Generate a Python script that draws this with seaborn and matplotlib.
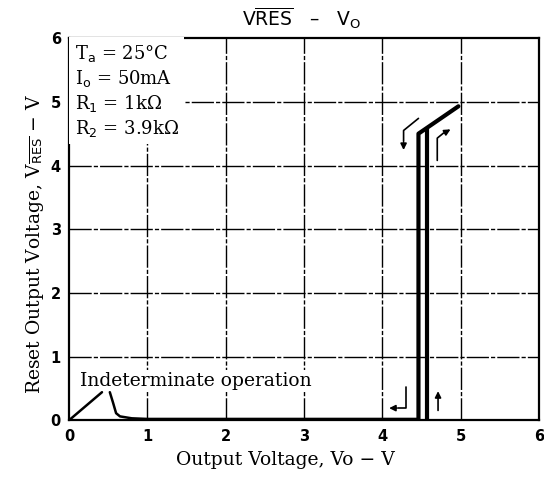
import matplotlib
matplotlib.use("Agg")
import matplotlib.pyplot as plt
import seaborn as sns

sns.set_style("white")
plt.rcParams['font.family'] = ['DejaVu Sans']
plt.rcParams['mathtext.fontset'] = 'dejavusans'
plt.rcParams['text.color'] = 'black'
plt.rcParams['axes.labelcolor'] = 'black'
plt.rcParams['xtick.color'] = 'black'
plt.rcParams['ytick.color'] = 'black'

# data
rise_x = [0.0, 0.42]
rise_y = [0.0, 0.44]
fall_x = [0.52, 0.56, 0.60, 0.65, 0.8, 1.0, 4.46]
fall_y = [0.44, 0.28, 0.11, 0.06, 0.03, 0.02, 0.02]
down_x = [4.46, 4.46, 4.97]
down_y = [0.02, 4.50, 4.93]
up_x = [4.57, 4.57]
up_y = [0.0, 4.58]
xticks = [0, 1, 2, 3, 4, 5, 6]
yticks = [0, 1, 2, 3, 4, 5, 6]

fig = plt.figure(figsize=(5.44, 4.83), dpi=100)
ax = fig.add_axes([0.127, 0.130, 0.864, 0.791])

gkw = dict(color='black', lw=1.0, ls=(0, (16, 1.5, 3, 1.5)), zorder=1)
for v in xticks[1:-1]:
    ax.axvline(v, **gkw)
for v in yticks[1:-1]:
    ax.axhline(v, **gkw)

lkw = dict(color='black', sort=False, estimator=None, legend=False, ax=ax)
sns.lineplot(x=rise_x, y=rise_y, lw=1.8, **lkw)
sns.lineplot(x=fall_x, y=fall_y, lw=1.8, **lkw)
sns.lineplot(x=down_x, y=down_y, lw=3.0, **lkw)
sns.lineplot(x=up_x, y=up_y, lw=3.0, **lkw)

# hysteresis arrows
akw = dict(arrowstyle='-|>', color='black', lw=1.2, mutation_scale=9)
ax.plot([4.46, 4.27, 4.27], [4.74, 4.55, 4.38], color='black', lw=1.2, zorder=4)
ax.annotate('', xy=(4.27, 4.2), xytext=(4.27, 4.4), arrowprops=akw)
ax.plot([4.70, 4.70, 4.78], [4.08, 4.43, 4.51], color='black', lw=1.2, zorder=4)
ax.annotate('', xy=(4.90, 4.59), xytext=(4.76, 4.49), arrowprops=akw)
ax.plot([4.30, 4.30, 4.2], [0.52, 0.19, 0.19], color='black', lw=1.2, zorder=4)
ax.annotate('', xy=(4.05, 0.19), xytext=(4.22, 0.19), arrowprops=akw)
ax.annotate('', xy=(4.71, 0.50), xytext=(4.71, 0.11), arrowprops=akw)

# conditions text
ax.text(0.07, 5.93,
        "T$_\\mathrm{a}$ = 25°C\nI$_\\mathrm{o}$ = 50mA\nR$_\\mathrm{1}$ = 1kΩ\nR$_\\mathrm{2}$ = 3.9kΩ",
        family='DejaVu Serif', fontsize=13, va='top', ha='left', linespacing=1.25,
        bbox=dict(facecolor='white', edgecolor='none', pad=4), zorder=5)
ax.text(0.14, 0.48, "Indeterminate operation", family='DejaVu Serif', fontsize=13.5,
        va='bottom', ha='left', bbox=dict(facecolor='white', edgecolor='none', pad=1), zorder=5)

ax.set_xlim(0, 6)
ax.set_ylim(0, 6)
ax.set_xticks(xticks)
ax.set_yticks(yticks)
ax.set_xticklabels([str(t) for t in xticks], fontweight='bold', fontsize=10.5)
ax.set_yticklabels([str(t) for t in yticks], fontweight='bold', fontsize=10.5)
ax.tick_params(length=0, pad=6)
for s in ax.spines.values():
    s.set_color('black')
    s.set_linewidth(1.6)

ax.set_xlabel("Output Voltage, Vo − V", family='DejaVu Serif', fontsize=13.5)
ax.set_ylabel(r"Reset Output Voltage, V$_{\overline{\mathrm{RES}}}$ − V", family='DejaVu Serif',
              fontsize=13.5)
ax.xaxis.set_label_coords(0.46, -0.08)
ax.yaxis.set_label_coords(-0.05, 0.46)
fig.text(0.555, 0.962, r"V$\overline{\mathrm{RES}}$   –   V$_\mathrm{O}$", ha='center', va='center',
         fontsize=13.5)

fig.savefig("out.png", dpi=100)
